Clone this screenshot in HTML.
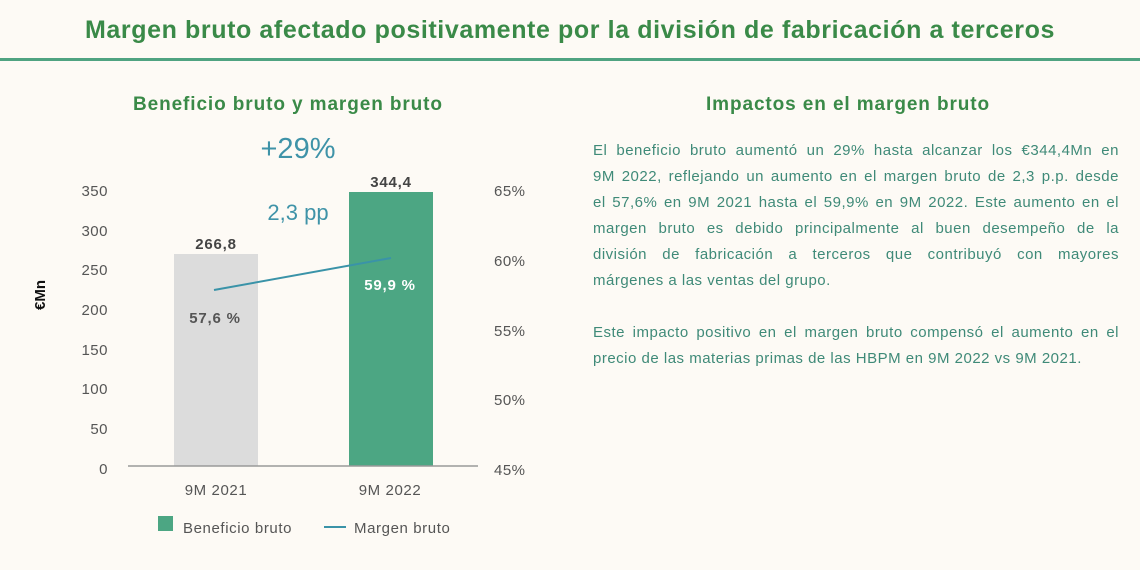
<!DOCTYPE html>
<html><head><meta charset="utf-8"><style>
body{margin:0;width:1140px;height:570px;background:#fdfaf5;font-family:"Liberation Sans",sans-serif;position:relative;overflow:hidden}
.t{position:absolute;white-space:nowrap}
#title{left:0;width:1140px;top:16px;text-align:center;font-size:25px;font-weight:bold;color:#3a8a48;letter-spacing:0.6px}
#rule{position:absolute;left:0;top:58px;width:1140px;height:3px;background:#4fa381}
#txt{position:absolute;left:593px;top:138px;width:526px;font-size:15px;line-height:26px;color:#3f8a78;letter-spacing:0.5px}
#txt div{white-space:nowrap;text-align:justify;text-align-last:justify;height:26px}
#txt div.l{text-align-last:left}
</style></head><body>
<div class="t" id="title">Margen bruto afectado positivamente por la división de fabricación a terceros</div>
<div id="rule"></div>
<div class="t" style="left:133px;top:94px;font-size:19px;font-weight:bold;color:#3a8a48;letter-spacing:0.9px">Beneficio bruto y margen bruto</div>
<div class="t" style="left:706px;top:94px;font-size:19px;font-weight:bold;color:#3a8a48;letter-spacing:0.9px">Impactos en el margen bruto</div>
<div id="txt">
<div>El beneficio bruto aumentó un 29% hasta alcanzar los €344,4Mn en</div>
<div>9M 2022, reflejando un aumento en el margen bruto de 2,3 p.p. desde</div>
<div>el 57,6% en 9M 2021 hasta el 59,9% en 9M 2022. Este aumento en el</div>
<div>margen bruto es debido principalmente al buen desempeño de la</div>
<div>división de fabricación a terceros que contribuyó con mayores</div>
<div class="l">márgenes a las ventas del grupo.</div>
<div class="l"></div>
<div>Este impacto positivo en el margen bruto compensó el aumento en el</div>
<div class="l">precio de las materias primas de las HBPM en 9M 2022 vs 9M 2021.</div>
</div>
<svg width="1140" height="570" style="position:absolute;left:0;top:0" font-family="Liberation Sans, sans-serif">
<text x="298" y="158" font-size="29" fill="#3f93a8" text-anchor="middle">+29%</text>
<text x="298" y="220" font-size="22" fill="#3f93a8" text-anchor="middle">2,3 pp</text>
<g font-size="15" fill="#555" text-anchor="end" letter-spacing="0.5">
<text x="108" y="196">350</text><text x="108" y="236">300</text><text x="108" y="275">250</text><text x="108" y="315">200</text><text x="108" y="355">150</text><text x="108" y="394">100</text><text x="108" y="434">50</text><text x="108" y="474">0</text>
</g>
<g font-size="15" fill="#555" letter-spacing="0.5">
<text x="494" y="196">65%</text><text x="494" y="266">60%</text><text x="494" y="336">55%</text><text x="494" y="405">50%</text><text x="494" y="475">45%</text>
</g>
<text transform="translate(45,295) rotate(-90)" font-size="15" font-weight="bold" fill="#111" text-anchor="middle">€Mn</text>
<rect x="174" y="254" width="84" height="212" fill="#dcdcdc"/>
<rect x="349" y="192" width="84" height="274" fill="#4ca683"/>
<line x1="128" y1="466" x2="478" y2="466" stroke="#999" stroke-width="1.5"/>
<line x1="214" y1="290" x2="391" y2="258" stroke="#3a93a8" stroke-width="2"/>
<g font-size="15" font-weight="bold" text-anchor="middle" letter-spacing="0.8">
<text x="216" y="249" fill="#444">266,8</text>
<text x="391" y="187" fill="#444">344,4</text>
<text x="215" y="323" fill="#555">57,6 %</text>
<text x="390" y="290" fill="#fff">59,9 %</text>
</g>
<g font-size="15" fill="#555" text-anchor="middle" letter-spacing="0.6">
<text x="216" y="495">9M 2021</text><text x="390" y="495">9M 2022</text>
</g>
<rect x="158" y="516" width="15" height="15" fill="#4ca683"/>
<text x="183" y="533" font-size="15" fill="#555" letter-spacing="0.6">Beneficio bruto</text>
<line x1="324" y1="527" x2="346" y2="527" stroke="#3a93a8" stroke-width="2"/>
<text x="354" y="533" font-size="15" fill="#555" letter-spacing="0.6">Margen bruto</text>
</svg>
</body></html>
